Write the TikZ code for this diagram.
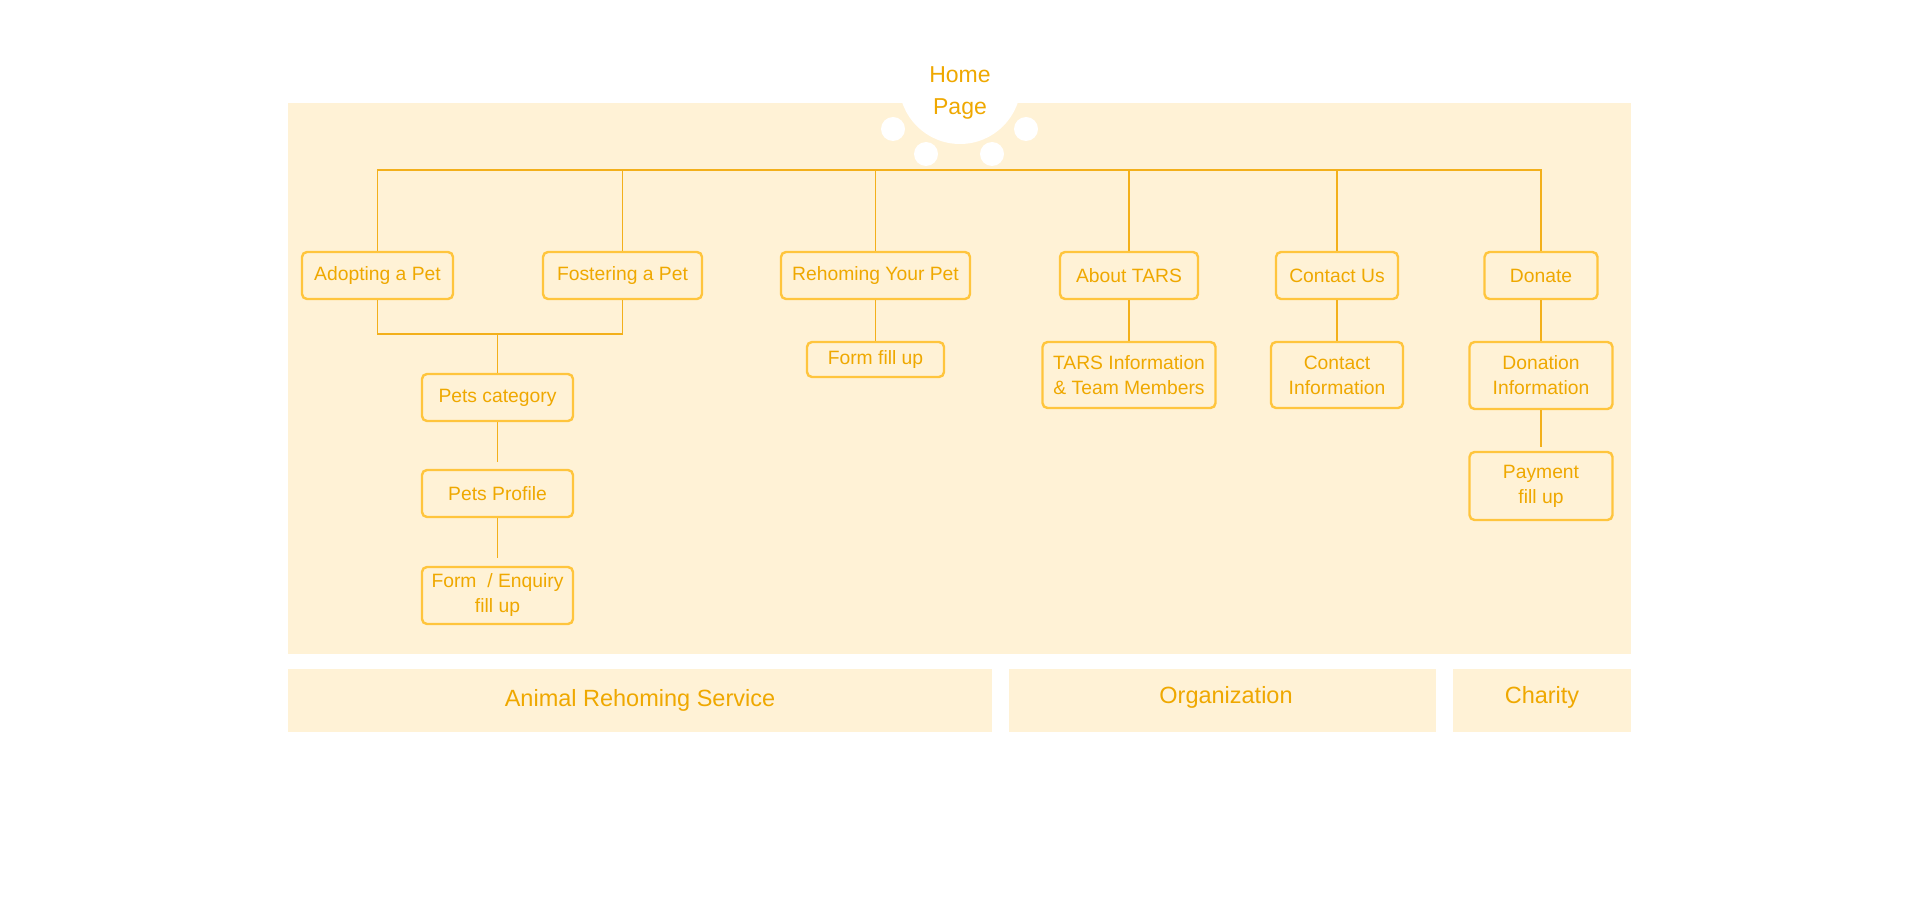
\documentclass[tikz,border=0pt]{standalone}
\usepackage{fontspec}
\setmainfont{Liberation Sans}
\definecolor{bgc}{HTML}{FFF2D6}
\definecolor{txtc}{HTML}{EFA800}
\definecolor{boxc}{HTML}{FFC53D}
\definecolor{linec}{HTML}{F3B01B}
\tikzset{
  box/.style={draw=boxc, line width=2.4pt, rounded corners=5pt, fill=bgc, text=txtc,
    font=\fontsize{19.3}{25}\selectfont, align=center, inner sep=0pt},
  conn/.style={draw=linec, line width=1.9pt},
  band/.style={fill=bgc, draw=none, text=txtc, font=\fontsize{23.5}{28}\selectfont, inner sep=0pt},
  dot/.style={circle, fill=white, draw=none, inner sep=0pt, minimum size=24pt}
}
\begin{document}
\begin{tikzpicture}[x=1pt,y=-1pt]
\useasboundingbox (0,0) rectangle (1920,909);
% background panel
\fill[bgc] (288,103) rectangle (1631,654);
% home cutout
\fill[white] (960,83) circle (61);
\node[dot] (d1) at (893,129) {};
\node[dot] (d2) at (926,154) {};
\node[dot] (d3) at (992,154) {};
\node[dot] (d4) at (1026,129) {};
\node[text=txtc, font=\fontsize{23}{31.5}\selectfont, align=center, inner sep=0pt] (home) at (960,93) {Home\\Page};
% bands
\node[band, minimum width=704pt, minimum height=63.5pt] (ars) at (640,700.5) {Animal Rehoming Service};
\node[band, minimum width=427pt, minimum height=63.5pt] (org) at (1222.5,700.5) {};
\node[text=txtc, font=\fontsize{23.5}{28}\selectfont, inner sep=0pt] at (1226,697) {Organization};
\node[band, minimum width=178pt, minimum height=63.5pt] (cha) at (1542,700.5) {};
\node[text=txtc, font=\fontsize{23.5}{28}\selectfont, inner sep=0pt] at (1542,697) {Charity};
% bus
\coordinate (bus) at (0,170);
% row 1
\node[box, minimum width=151pt, minimum height=47pt] (adopt) at (377.5,275.5) {Adopting a Pet};
\node[box, minimum width=159pt, minimum height=47pt] (foster) at (622.5,275.5) {Fostering a Pet};
\node[box, minimum width=189pt, minimum height=47pt] (rehome) at (875.5,275.5) {Rehoming Your Pet};
\node[box, minimum width=138pt, minimum height=47pt] (about) at (1129,275.5) {About TARS};
\node[box, minimum width=122pt, minimum height=47pt] (contact) at (1337,275.5) {Contact Us};
\node[box, minimum width=113pt, minimum height=47pt] (donate) at (1541,275.5) {Donate};
% row 2+
\node[box, minimum width=151pt, minimum height=47pt] (cat) at (497.5,397.5) {Pets category};
\node[box, minimum width=151pt, minimum height=47pt] (prof) at (497.5,493.5) {Pets Profile};
\node[box, minimum width=151pt, minimum height=57pt] (form) at (497.5,595.5) {Form~~/ Enquiry\\fill up};
\node[box, minimum width=137pt, minimum height=35pt] (ffill) at (875.5,359.5) {Form fill up};
\node[box, minimum width=173pt, minimum height=66pt] (tinfo) at (1129,375) {TARS Information\\\& Team Members};
\node[box, minimum width=132pt, minimum height=66pt] (cinfo) at (1337,375) {Contact\\Information};
\node[box, minimum width=143pt, minimum height=67pt] (dinfo) at (1541,375.5) {Donation\\Information};
\node[box, minimum width=143pt, minimum height=68pt] (pay) at (1541,486) {Payment\\fill up};
% connectors
\draw[conn] (adopt.north) -- (adopt.north |- bus) -- (donate.north |- bus) -- (donate.north);
\draw[conn] (foster.north) -- (foster.north |- bus);
\draw[conn] (rehome.north) -- (rehome.north |- bus);
\draw[conn] (about.north) -- (about.north |- bus);
\draw[conn] (contact.north) -- (contact.north |- bus);
\coordinate (mid) at (497.5,334);
\draw[conn] (adopt.south) |- (mid) -| (foster.south);
\draw[conn] (mid) -- (cat.north);
\coordinate (e1) at (497.5,462);
\coordinate (e2) at (497.5,558);
\coordinate (e3) at (1541,447);
\draw[conn] (cat.south) -- (e1);
\draw[conn] (prof.south) -- (e2);
\draw[conn] (rehome.south) -- (ffill.north);
\draw[conn] (about.south) -- (tinfo.north);
\draw[conn] (contact.south) -- (cinfo.north);
\draw[conn] (donate.south) -- (dinfo.north);
\draw[conn] (dinfo.south) -- (e3);
\end{tikzpicture}
\end{document}
